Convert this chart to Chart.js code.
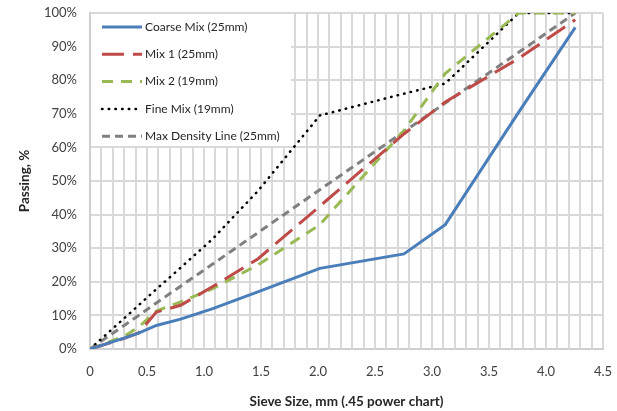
<!DOCTYPE html>
<html>
<head>
<meta charset="utf-8">
<title>Gradation Chart</title>
<script src="https://cdn.jsdelivr.net/npm/chart.js@4.4.1/dist/chart.umd.min.js"></script>
<style>
  html, body { margin: 0; padding: 0; background: #fff; }
  #wrap { width: 617px; height: 411px; position: relative; }
</style>
</head>
<body>
<div id="wrap"><canvas id="gradationChart"></canvas></div>
<script>
// Sieve positions on the .45 power axis (0, 0.075, 0.15, 0.3, 0.6, 1.18, 2.36, 4.75, 9.5, 12.5, 19, 25 mm)
var sieveX = [0, 0.312, 0.426, 0.582, 0.795, 1.077, 1.472, 2.016, 2.754, 3.116, 3.761, 4.257];

// Percent passing for each mix
var coarseMix = [0, 3.4, 4.7, 7, 8.9, 12, 17, 24, 28.3, 37, 70.5, 95.7];
var mix1 = [0, 3.3, 4.8, 11, 13, 18.6, 26.8, 42.5, 64, 73.5, 86.5, 98];
var mix2 = [0, 4, 6.5, 11.3, 14, 18, 25, 37, 65, 82, 100, 100];
var fineMix = [0, 9.5, 13, 17.8, 24.2, 32.8, 47, 69.5, 76, 79, 100, 100];
var maxDensity = [0, 7.3, 10, 13.7, 18.7, 25.3, 34.6, 47.4, 64.7, 73.2, 88.3, 100];

var seriesNames = ['Coarse Mix (25mm)', 'Mix 1 (25mm)', 'Mix 2 (19mm)', 'Fine Mix (19mm)', 'Max Density Line (25mm)'];

var FONT = 'Lato, "Liberation Sans", sans-serif';
var GRID = '#d9d9d9';

function toPoints(values) {
    return values.map(function(v, i) { return { x: sieveX[i], y: v }; });
}

// Minor vertical gridlines every 0.1, then the legend box on top of the grid
var innerLegend = {
    id: 'innerLegend',
    beforeDatasetsDraw: function(chart) {
        var ctx = chart.ctx;
        var area = chart.chartArea;
        var xScale = chart.scales.x;
        ctx.save();
        ctx.strokeStyle = GRID;
        ctx.lineWidth = 2;
        for (var i = 1; i < 45; i++) {
            var px = Math.round(xScale.getPixelForValue(i / 10));
            ctx.beginPath();
            ctx.moveTo(px, area.top);
            ctx.lineTo(px, area.bottom);
            ctx.stroke();
        }
        ctx.fillStyle = '#ffffff';
        ctx.fillRect(area.left + 1, area.top + 1, 200, 132);
        ctx.restore();
    },
    afterDatasetsDraw: function(chart) {
        var ctx = chart.ctx;
        var area = chart.chartArea;
        ctx.save();
        chart.data.datasets.forEach(function(ds, i) {
            var y = area.top + 14 + i * 27.3;
            var x0 = area.left + 12;
            ctx.beginPath();
            ctx.strokeStyle = ds.borderColor;
            ctx.lineWidth = ds.borderWidth;
            ctx.lineCap = ds.borderCapStyle || 'butt';
            ctx.setLineDash(ds.borderDash || []);
            ctx.moveTo(x0, y);
            ctx.lineTo(x0 + 40, y);
            ctx.stroke();
            ctx.setLineDash([]);
            ctx.fillStyle = '#262626';
            ctx.font = '12px ' + FONT;
            ctx.textBaseline = 'middle';
            ctx.fillText(ds.label, x0 + 43, y);
        });
        ctx.restore();
    }
};

document.addEventListener('DOMContentLoaded', function() {
    var ctx = document.getElementById('gradationChart').getContext('2d');
    var gradationChart = new Chart(ctx, {
        type: 'line',
        data: {
            datasets: [{
                label: seriesNames[0],
                data: toPoints(coarseMix),
                borderColor: '#4a7ebb',
                borderWidth: 3
            }, {
                label: seriesNames[1],
                data: toPoints(mix1),
                borderColor: '#be4b48',
                borderWidth: 3,
                borderDash: [22, 9]
            }, {
                label: seriesNames[2],
                data: toPoints(mix2),
                borderColor: '#98b954',
                borderWidth: 3,
                borderDash: [11, 8]
            }, {
                label: seriesNames[3],
                data: toPoints(fineMix),
                borderColor: '#000000',
                borderWidth: 2.5,
                borderDash: [0.5, 6.2],
                borderCapStyle: 'round'
            }, {
                label: seriesNames[4],
                data: toPoints(maxDensity),
                borderColor: '#808080',
                borderWidth: 3,
                borderDash: [8, 5]
            }]
        },
        options: {
            responsive: true,
            maintainAspectRatio: false,
            animation: false,
            layout: { padding: { top: 13, right: 14, bottom: 0, left: 0 } },
            elements: {
                point: { radius: 0, hoverRadius: 0 },
                line: { tension: 0, fill: false }
            },
            scales: {
                x: {
                    type: 'linear',
                    min: 0,
                    max: 4.5,
                    afterFit: function(scale) { scale.height = 62; },
                    // transparent tick marks just push the labels down
                    grid: { color: GRID, lineWidth: 2, drawTicks: true, tickLength: 12, tickColor: 'rgba(0,0,0,0)' },
                    border: { color: '#cfcfcf', width: 2 },
                    ticks: {
                        stepSize: 0.5,
                        autoSkip: false,
                        maxRotation: 0,
                        padding: 3,
                        color: '#404040',
                        font: { family: FONT, size: 13 }
                    },
                    title: {
                        display: true,
                        text: 'Sieve Size, mm (.45 power chart)',
                        color: '#262626',
                        font: { family: FONT, size: 13.5, weight: 'bold' },
                        padding: { top: 0, bottom: 1 }
                    }
                },
                y: {
                    min: 0,
                    max: 100,
                    afterFit: function(scale) { scale.width = 90; },
                    grid: { color: GRID, lineWidth: 2, drawTicks: true, tickLength: 10, tickColor: 'rgba(0,0,0,0)' },
                    border: { color: '#cfcfcf', width: 2 },
                    ticks: {
                        stepSize: 10,
                        padding: 3,
                        color: '#404040',
                        font: { family: FONT, size: 13 },
                        callback: function(value) { return value + '%'; }
                    },
                    title: {
                        display: true,
                        text: 'Passing, %',
                        color: '#262626',
                        font: { family: FONT, size: 13.5, weight: 'bold' },
                        padding: { top: 17, bottom: 0 }
                    }
                }
            },
            plugins: {
                legend: { display: false },
                tooltip: { enabled: false }
            }
        },
        plugins: [innerLegend]
    });
});
</script>
</body>
</html>
